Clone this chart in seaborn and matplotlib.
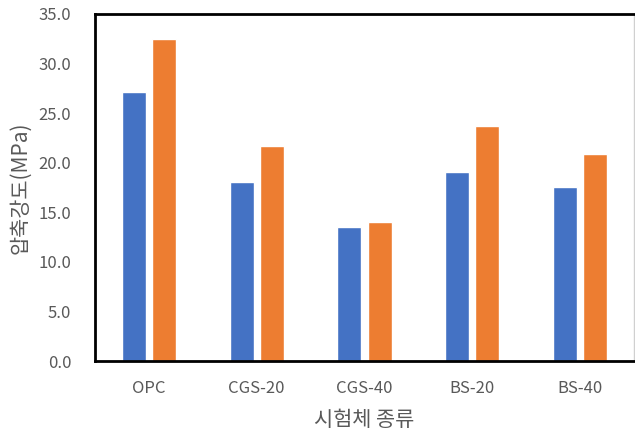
import matplotlib
matplotlib.use("Agg")
import matplotlib.pyplot as plt
import seaborn as sns
import pandas as pd

# Compressive strength by specimen type, two series per specimen
categories = ["OPC", "CGS-20", "CGS-40", "BS-20", "BS-40"]
series_names = ["A", "B"]
series_a = [27.1, 18.1, 13.5, 19.1, 17.6]
series_b = [32.5, 21.7, 14.0, 23.7, 20.9]
y_ticks = [0, 5, 10, 15, 20, 25, 30, 35]

df = pd.DataFrame({
    "category": categories * 2,
    "series": [series_names[0]] * len(categories) + [series_names[1]] * len(categories),
    "value": series_a + series_b,
})

sns.set_style("white")
plt.rcParams["font.family"] = ["Noto Sans CJK KR", "DejaVu Sans"]

fig = plt.figure(figsize=(6.35, 4.32), dpi=100)
ax = fig.add_axes([95 / 635, 71 / 432, 539 / 635, 347 / 432])

sns.barplot(
    data=df, x="category", y="value", hue="series",
    order=categories, hue_order=series_names,
    palette=["#4472C4", "#ED7D31"],
    width=0.56, gap=0.2, saturation=1, legend=False, ax=ax,
)

ax.set_xlim(-0.5, len(categories) - 0.5)
ax.set_ylim(0, 35)
ax.set_yticks(y_ticks)
ax.set_yticklabels([f"{v:.1f}" for v in y_ticks])

text_color = "#595959"
ax.tick_params(axis="both", length=0, labelsize=12, labelcolor=text_color)
ax.tick_params(axis="y", pad=17)
ax.tick_params(axis="x", pad=14)

for side in ["left", "top", "bottom"]:
    ax.spines[side].set_color("black")
    ax.spines[side].set_linewidth(2.0)
ax.spines["right"].set_color("#d0d0d0")
ax.spines["right"].set_linewidth(1.0)

ax.set_xlabel("시험체 종류", fontsize=15, color=text_color, labelpad=8)
ax.set_ylabel("압축강도(MPa)", fontsize=15, color=text_color, labelpad=5)

fig.savefig("out.png", dpi=100)
